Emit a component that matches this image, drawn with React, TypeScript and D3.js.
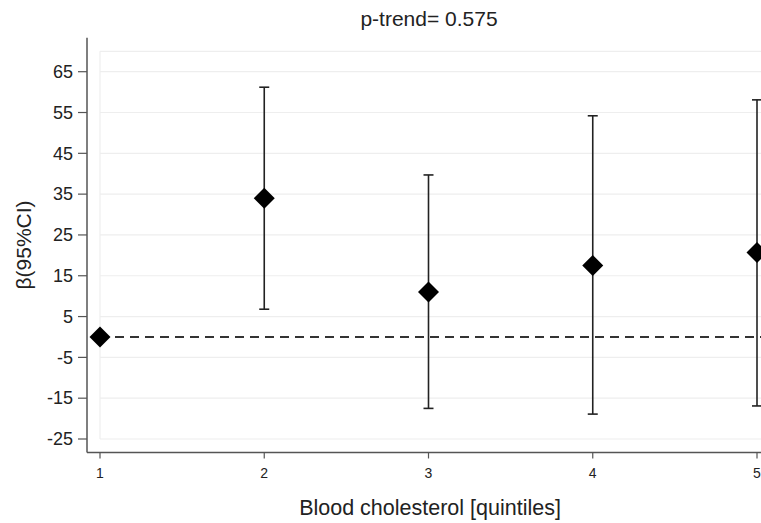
import React from "react";
import * as d3 from "d3";

const categories = [1, 2, 3, 4, 5];
const estimates = [0, 34.0, 11.0, 17.5, 20.7];
const lower = [0, 6.8, -17.5, -18.9, -16.9];
const upper = [0, 61.2, 39.7, 54.2, 58.1];
const yTicks = [-25, -15, -5, 5, 15, 25, 35, 45, 55, 65];
const title = "p-trend= 0.575";
const xLabel = "Blood cholesterol [quintiles]";
const yLabel = "β(95%CI)";

const W = 761;
const H = 523;

export default function App() {
  const x = d3.scaleLinear().domain([1, 5]).range([100, 757]);
  const y = d3.scaleLinear().domain([-25, 65]).range([439, 71.7]);
  const yTop = y(73.3);
  const yBot = y(-28.3);
  const axisX = 87;
  const font = "'Liberation Sans', Arial, sans-serif";
  const narrow = "'Liberation Sans Narrow', 'Liberation Sans', Arial, sans-serif";
  const diamond = (cx: number, cy: number, r: number) =>
    `M${cx},${cy - r}L${cx + r},${cy}L${cx},${cy + r}L${cx - r},${cy}Z`;

  return (
    <svg width={W} height={H} style={{ position: "absolute", left: 0, top: 0, background: "#fff" }}>
      <rect x={0} y={0} width={W} height={H} fill="#fff" />
      {/* plot region border & gridlines */}
      <line x1={x(1)} x2={W} y1={y(70)} y2={y(70)} stroke="#eeeeee" strokeWidth={1.2} />
      <line x1={x(1)} x2={x(1)} y1={y(70)} y2={y(-25)} stroke="#eeeeee" strokeWidth={1.2} />
      {yTicks.map((t) => (
        <line key={"g" + t} x1={x(1)} x2={W} y1={y(t)} y2={y(t)} stroke="#eeeeee" strokeWidth={1.2} />
      ))}
      {/* axes */}
      <line x1={axisX} x2={axisX} y1={yTop} y2={yBot} stroke="#555" strokeWidth={1.5} />
      <line x1={axisX} x2={W} y1={yBot} y2={yBot} stroke="#555" strokeWidth={1.5} />
      {yTicks.map((t) => (
        <g key={"t" + t}>
          <line x1={axisX - 9} x2={axisX} y1={y(t)} y2={y(t)} stroke="#555" strokeWidth={1.2} />
          <text x={axisX - 14} y={y(t)} dy="0.35em" textAnchor="end" fontFamily={font} fontSize={18} fill="#222">
            {t}
          </text>
        </g>
      ))}
      {categories.map((c) => (
        <g key={"x" + c}>
          <line x1={x(c)} x2={x(c)} y1={yBot} y2={yBot + 6} stroke="#555" strokeWidth={1.2} />
          <text x={x(c)} y={478} textAnchor="middle" fontFamily={narrow} fontSize={14} fill="#222">
            {c}
          </text>
        </g>
      ))}
      {/* reference line */}
      <line x1={x(1)} x2={W} y1={y(0)} y2={y(0)} stroke="#333" strokeWidth={2} strokeDasharray="9,6" />
      {/* error bars */}
      {categories.map((c, i) =>
        i === 0 ? null : (
          <g key={"e" + c} stroke="#222" strokeWidth={1.6}>
            <line x1={x(c)} x2={x(c)} y1={y(lower[i])} y2={y(upper[i])} />
            <line x1={x(c) - 5} x2={x(c) + 5} y1={y(lower[i])} y2={y(lower[i])} />
            <line x1={x(c) - 5} x2={x(c) + 5} y1={y(upper[i])} y2={y(upper[i])} />
          </g>
        )
      )}
      {categories.map((c, i) => (
        <path key={"d" + c} d={diamond(x(c), y(estimates[i]), 10.5)} fill="#000" />
      ))}
      <text x={429} y={26} textAnchor="middle" fontFamily={font} fontSize={21} fill="#222">
        {title}
      </text>
      <text x={430} y={515} textAnchor="middle" fontFamily={font} fontSize={21.5} fill="#222">
        {xLabel}
      </text>
      <text
        transform={`translate(31, ${245}) rotate(-90)`}
        textAnchor="middle"
        fontFamily={font}
        fontSize={21}
        fill="#222"
      >
        {yLabel}
      </text>
    </svg>
  );
}
